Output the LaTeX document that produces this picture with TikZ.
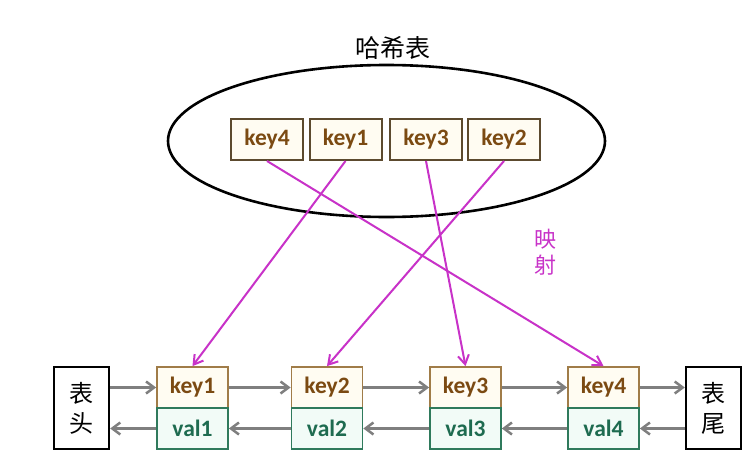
\documentclass[tikz,border=0pt]{standalone}
\usepackage{fontspec}
\setmainfont{Carlito}
\newfontfamily\cjk{Noto Sans CJK SC}
\usetikzlibrary{arrows.meta,shapes.geometric}
\definecolor{keytxt}{HTML}{7B4A12}
\definecolor{keybrd}{HTML}{5C4A2E}
\definecolor{keyfill}{HTML}{FFFCF2}
\definecolor{bkeybrd}{HTML}{A07C48}
\definecolor{valtxt}{HTML}{1E6B50}
\definecolor{valbrd}{HTML}{2F7A5C}
\definecolor{valfill}{HTML}{F2FBF7}
\definecolor{mapc}{HTML}{C832C8}
\definecolor{grayc}{HTML}{7F7F7F}
\tikzset{
  hkey/.style={draw=keybrd, line width=2pt, fill=keyfill, minimum width=72pt, minimum height=41pt, inner sep=0pt, text=keytxt, font=\fontsize{23.5}{24}\selectfont\bfseries},
  bkey/.style={draw=bkeybrd, line width=1.8pt, fill=keyfill, minimum width=71pt, minimum height=41pt, inner sep=0pt, text=keytxt, font=\fontsize{23.5}{24}\selectfont\bfseries},
  bval/.style={draw=valbrd, line width=1.8pt, fill=valfill, minimum width=71pt, minimum height=41pt, inner sep=0pt, text=valtxt, font=\fontsize{23.5}{24}\selectfont\bfseries},
  endbox/.style={draw=black, line width=2.4pt, fill=white, minimum width=55pt, minimum height=82pt, inner sep=0pt, align=center, font=\cjk\fontsize{24}{30}\selectfont},
  maparrow/.style={draw=mapc, line width=2pt, -{Straight Barb[length=9pt,width=11pt]}},
  grayarrow/.style={draw=grayc, line width=2.5pt, -{Straight Barb[length=8pt,width=12pt]}},
}
\begin{document}
\begin{tikzpicture}[x=1pt,y=-1pt]
\useasboundingbox (0,0) rectangle (752,463);
\fill[white] (0,0) rectangle (752,463);
% hash table
\node[font=\cjk\fontsize{25}{25}\selectfont] (title) at (393,48) {哈希表};
\node[draw=black, line width=2.6pt, ellipse, minimum width=437pt, minimum height=152pt, inner sep=0pt] (ht) at (386.5,141) {};
\node[hkey] (hk4) at (267,139.5) {key4};
\node[hkey] (hk1) at (345.5,139.5) {key1};
\node[hkey] (hk3) at (426,139.5) {key3};
\node[hkey] (hk2) at (504,139.5) {key2};
% list
\node[endbox] (head) at (81.5,408) {表\\头};
\node[endbox] (tail) at (713.5,408) {表\\尾};
\node[bkey] (k1) at (192.5,387.5) {key1};
\node[bval] (v1) at (192.5,428.5) {val1};
\node[bkey] (k2) at (327,387.5) {key2};
\node[bval] (v2) at (327,428.5) {val2};
\node[bkey] (k3) at (465.5,387.5) {key3};
\node[bval] (v3) at (465.5,428.5) {val3};
\node[bkey] (k4) at (603.5,387.5) {key4};
\node[bval] (v4) at (603.5,428.5) {val4};
% forward arrows
\draw[grayarrow] (head.east |- k1) -- (k1.west);
\draw[grayarrow] (k1.east) -- (k2.west);
\draw[grayarrow] (k2.east) -- (k3.west);
\draw[grayarrow] (k3.east) -- (k4.west);
\draw[grayarrow] (k4.east) -- (tail.west |- k4);
% backward arrows
\draw[grayarrow] (tail.west |- v4) -- (v4.east);
\draw[grayarrow] (v4.west) -- (v3.east);
\draw[grayarrow] (v3.west) -- (v2.east);
\draw[grayarrow] (v2.west) -- (v1.east);
\draw[grayarrow] (v1.west) -- (head.east |- v1);
% mapping
\draw[maparrow] (hk4.south) -- (k4.north);
\draw[maparrow] (hk1.south) -- (k1.north);
\draw[maparrow] (hk3.south) -- (k3.north);
\draw[maparrow] (hk2.south) -- (k2.north);
\node[text=mapc, align=center, font=\cjk\fontsize{22}{26}\selectfont] (maplbl) at (545,252) {映\\射};
\end{tikzpicture}
\end{document}
